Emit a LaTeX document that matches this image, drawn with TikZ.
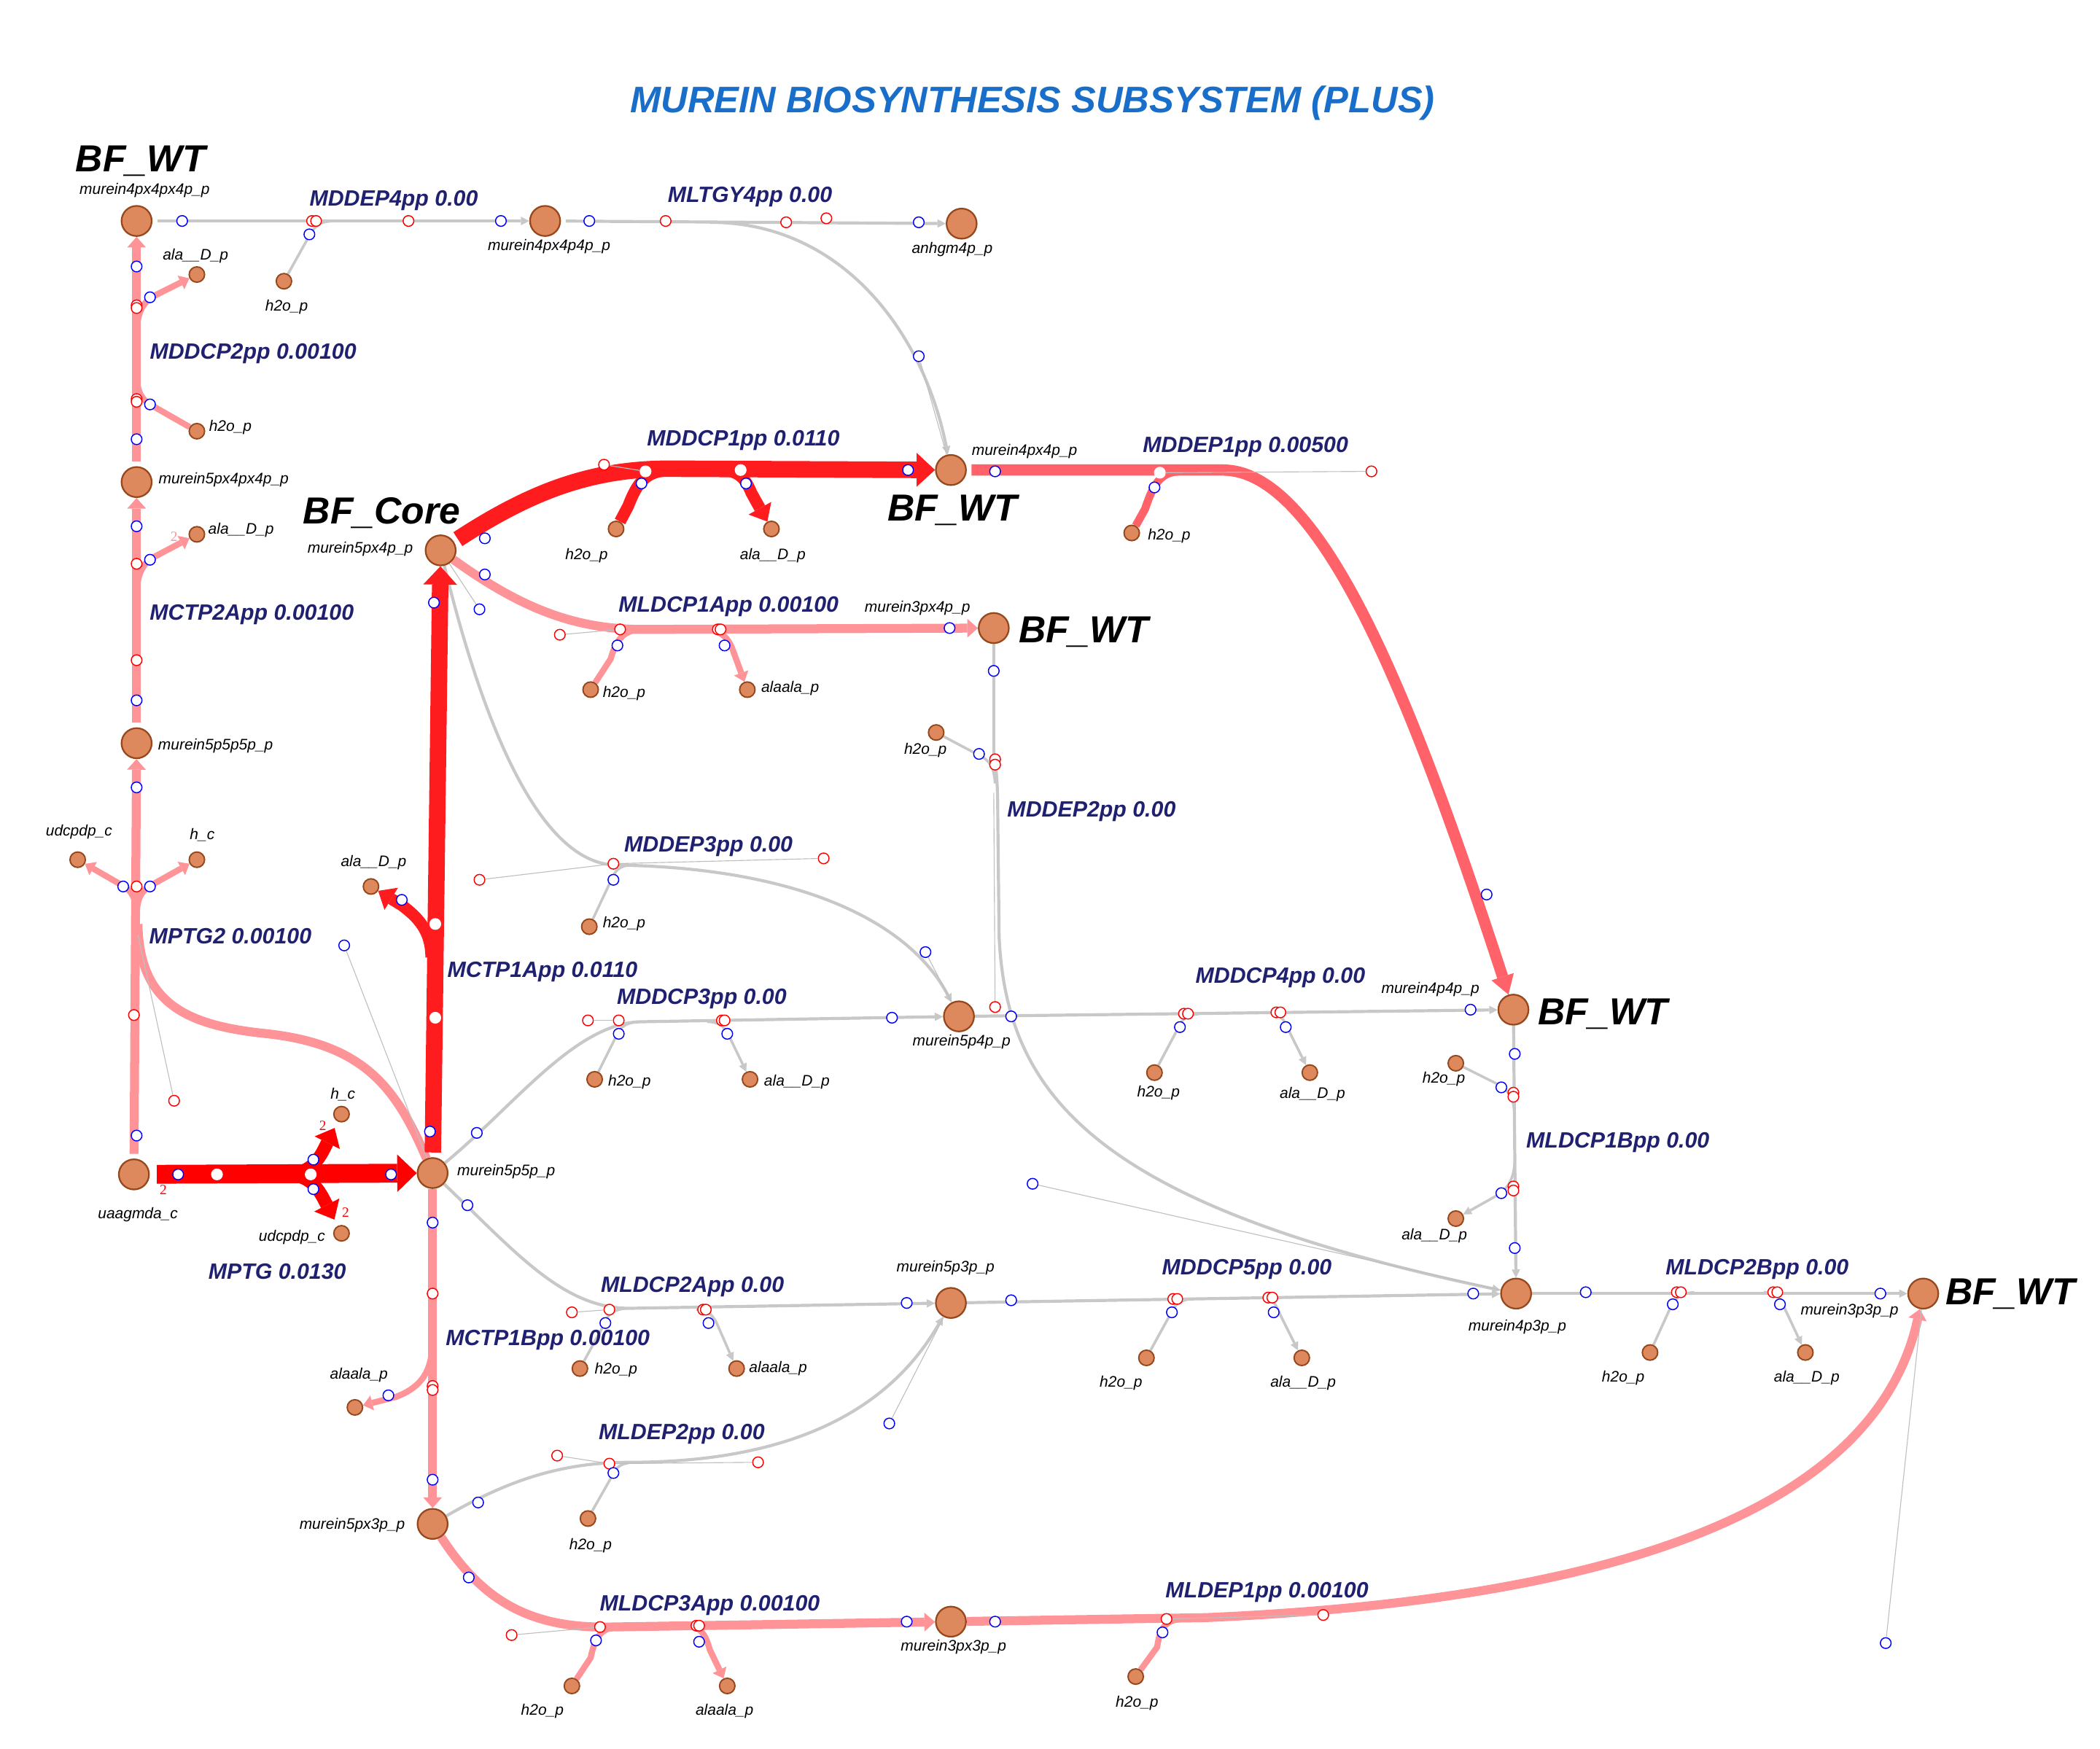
\documentclass[tikz,border=0pt]{standalone}
\usepackage{fontspec}
\setmainfont{Liberation Sans}
\newfontfamily\stoichfont{Liberation Serif}
\usetikzlibrary{arrows.meta}
\usetikzlibrary{backgrounds}

\definecolor{metfill}{RGB}{222,137,93}
\definecolor{metdraw}{RGB}{150,72,28}
\definecolor{fluxtop}{RGB}{255,0,0}
\definecolor{fluxhigh}{RGB}{255,28,30}
\definecolor{fluxmid}{RGB}{255,98,104}
\definecolor{fluxlow}{RGB}{255,148,152}
\definecolor{fluxnone}{RGB}{200,200,200}
\definecolor{rxnavy}{RGB}{32,32,112}
\definecolor{titleblue}{RGB}{24,110,200}

\tikzset{
  met/.style={circle, draw=metdraw, fill=metfill, line width=0.7pt, inner sep=0pt, minimum size=0.45cm},
  smet/.style={met, minimum size=0.23cm, line width=0.6pt},
  mlab/.style={anchor=base, inner sep=0pt, font=\fontsize{6.5}{7}\selectfont\itshape},
  rlab/.style={anchor=base, inner sep=0pt, text=rxnavy, font=\fontsize{9.4}{10}\selectfont\bfseries\itshape},
  bflab/.style={anchor=base, inner sep=0pt, font=\fontsize{16}{18}\selectfont\bfseries\itshape},
  titlelab/.style={anchor=base, inner sep=0pt, text=titleblue, font=\fontsize{15.7}{18}\selectfont\bfseries\itshape},
  stoich/.style={anchor=base, inner sep=0pt, text=red, font=\fontsize{6}{6}\selectfont\stoichfont},
  bmark/.style={circle, draw=blue, fill=white, line width=0.45pt, inner sep=0pt, minimum size=0.16cm},
  rmark/.style={bmark, draw=red},
  wmark/.style={bmark, draw=white},
  skel/.style={draw=black!25, line width=0.35pt},
  f0/.style={draw=fluxnone, line width=1.3pt},
  f0b/.style={draw=fluxnone, line width=1.1pt},
  f1/.style={draw=fluxlow, line width=3.8pt},
  f1b/.style={draw=fluxlow, line width=2.6pt},
  f2/.style={draw=fluxmid, line width=4.8pt},
  f2b/.style={draw=fluxmid, line width=3.4pt},
  f3/.style={draw=fluxhigh, line width=7pt},
  f3b/.style={draw=fluxhigh, line width=5pt},
  f4/.style={draw=fluxtop, line width=8pt},
  f4b/.style={draw=fluxtop, line width=5.5pt},
  tip0/.style={-{Triangle[length=3.5pt,width=3.6pt,line width=0pt]}},
  tip1/.style={-{Triangle[length=4.5pt,width=8pt,line width=0pt]}},
  tip1b/.style={-{Triangle[length=4pt,width=6.5pt,line width=0pt]}},
  tip2/.style={-{Triangle[length=8pt,width=10pt,line width=0pt]}},
  tip3/.style={-{Triangle[length=7.8pt,width=14.4pt,line width=0pt]}},
  tip3b/.style={-{Triangle[length=6.5pt,width=11pt,line width=0pt]}},
  tip4/.style={-{Triangle[length=8.3pt,width=16pt,line width=0pt]}},
  tip4b/.style={-{Triangle[length=7pt,width=12pt,line width=0pt]}},
}

\begin{document}
\begin{tikzpicture}[x={(0.02cm,0)},y={(0,-0.02cm)}]
        \useasboundingbox (0,0) rectangle (1568,1306);

        % metabolites (main)
        \node[met](m4x4x4) at (102,165){};
        \node[met](m4x44) at (407,165){};
        \node[met](anh) at (718,167){};
        \node[met](m5x4x4) at (102,360){};
        \node[met](m555) at (102,555){};
        \node[met](m5x4) at (329,411){};
        \node[met](m4x4) at (710,351){};
        \node[met](m3x4) at (742,469){};
        \node[met](uaag) at (100,877){};
        \node[met](m55) at (323,876){};
        \node[met](m54) at (716,759){};
        \node[met](m44) at (1130,754){};
        \node[met](m53) at (710,973){};
        \node[met](m43) at (1132,966){};
        \node[met](m33) at (1436,966){};
        \node[met](m5x3) at (323,1138){};
        \node[met](m3x3) at (710,1211){};

        % metabolites (side)
        \node[smet](ala1) at (147,205){};
        \node[smet](w1) at (212,210){};
        \node[smet](w2) at (147,322){};
        \node[smet](ala2) at (147,399){};
        \node[smet](udp1) at (58,642){};
        \node[smet](hc1) at (147,642){};
        \node[smet](ala3) at (277,662){};
        \node[smet](hc2) at (255,832){};
        \node[smet](udp2) at (255,921){};
        \node[smet](w3) at (460,395){};
        \node[smet](ala4) at (576,395){};
        \node[smet](w4) at (845,398){};
        \node[smet](w5) at (441,515){};
        \node[smet](aa1) at (558,515){};
        \node[smet](w6) at (699,547){};
        \node[smet](w7) at (440,692){};
        \node[smet](w8) at (444,806){};
        \node[smet](ala5) at (560,806){};
        \node[smet](w9) at (862,801){};
        \node[smet](ala6) at (978,801){};
        \node[smet](w10) at (1087,794){};
        \node[smet](ala7) at (1087,910){};
        \node[smet](aa2) at (265,1051){};
        \node[smet](w11) at (433,1022){};
        \node[smet](aa3) at (550,1022){};
        \node[smet](w12) at (856,1014){};
        \node[smet](ala8) at (972,1014){};
        \node[smet](w13) at (1232,1010){};
        \node[smet](ala9) at (1348,1010){};
        \node[smet](w14) at (439,1134){};
        \node[smet](w15) at (427,1259){};
        \node[smet](aa4) at (543,1259){};
        \node[smet](w16) at (848,1252){};

        \coordinate (jmptg) at (103,698);
        \coordinate (jdep) at (742,592);

        \begin{scope}[on background layer]
        % zero flux
        \draw[f0, tip0, shorten <=2pt] (m4x4x4) -- (m4x44);
        \draw[f0b] (w1) -- (231,176) .. controls (236,167) and (240,165) .. (252,165);
        \draw[f0, tip0, shorten <=2pt] (m4x44) -- (anh);
        \draw[f0, tip0] (530,166) .. controls (630,166) and (690,250) .. (m4x4);
        \draw[f0, tip0] (m3x4) -- (742,562) .. controls (744,575) and (745,585) .. (745,610) -- (746,700) .. controls (752,820) and (820,900) .. (m43);
        \draw[f0b] (w6) -- (731,564) .. controls (739,568) and (742,572) .. (743,585);
        \draw[f0, tip0] (m5x4) .. controls (358,530) and (400,645) .. (460,646) .. controls (600,648) and (680,690) .. (m54);
        \draw[f0b] (w7) -- (456,658) .. controls (459,650) and (463,646) .. (472,646);
        \draw[f0, tip0] (m55) .. controls (385,825) and (430,763) .. (480,763) -- (m54);
        \draw[f0b] (w8) -- (459,776) .. controls (462,768) and (466,764) .. (476,763);
        \draw[f0b, tip0] (528,763) .. controls (538,763) and (542,768) .. (545,775) -- (ala5);
        \draw[f0, tip0] (m54) -- (m44);
        \draw[f0b] (w9) -- (879,769) .. controls (882,761) and (886,758) .. (896,757);
        \draw[f0b, tip0] (945,756) .. controls (955,756) and (959,761) .. (962,769) -- (ala6);
        \draw[f0, tip0] (m44) -- (m43);
        \draw[f0b] (w10) -- (1119,810) .. controls (1127,815) and (1130,820) .. (1131,832);
        \draw[f0b, tip0] (1131,868) .. controls (1130,880) and (1127,886) .. (1119,892) -- (ala7);
        \draw[f0, tip0] (m53) -- (m43);
        \draw[f0b] (w12) -- (873,983) .. controls (877,974) and (881,970) .. (892,970);
        \draw[f0b, tip0] (940,969) .. controls (950,969) and (953,974) .. (956,982) -- (ala8);
        \draw[f0, tip0] (m43) -- (m33);
        \draw[f0b] (w13) -- (1247,977) .. controls (1251,969) and (1255,966) .. (1265,965);
        \draw[f0b, tip0] (1317,965) .. controls (1327,965) and (1330,970) .. (1333,978) -- (ala9);
        \draw[f0, tip0] (m55) .. controls (385,935) and (420,977) .. (470,977) -- (m53);
        \draw[f0b] (w11) -- (450,991) .. controls (453,982) and (457,978) .. (468,977);
        \draw[f0b, tip0] (520,978) .. controls (529,978) and (533,983) .. (536,990) -- (aa3);
        \draw[f0, tip0] (m5x3) .. controls (380,1105) and (420,1092) .. (470,1092) .. controls (580,1092) and (660,1060) .. (m53);
        \draw[f0b] (w14) -- (456,1104) .. controls (459,1096) and (463,1093) .. (472,1092);

        % low flux
        \draw[f1, tip1, shorten <=2pt] (m5x4x4) -- (m4x4x4);
        \draw[f1b] (w2) -- (112,302) .. controls (104,297) and (102,290) .. (102,276);
        \draw[f1b, tip1b] (102,252) .. controls (102,236) and (105,228) .. (113,222) -- (ala1);
        \draw[f1, tip1, shorten <=2pt] (m555) -- (m5x4x4);
        \draw[f1b, tip1b] (102,447) .. controls (102,431) and (105,423) .. (113,417) -- (ala2);
        \draw[f1, tip1, shorten <=2pt] (uaag) -- (m555);
        \draw[f1] (m55) .. controls (295,810) and (270,780) .. (200,772) .. controls (140,766) and (104,750) .. (103,690);
        \draw[f1b, tip1b] (102,685) .. controls (102,670) and (98,665) .. (91,661) -- (udp1);
        \draw[f1b, tip1b] (102,685) .. controls (102,670) and (106,665) .. (113,661) -- (hc1);
        \draw[f1, tip1] (m5x4) .. controls (390,455) and (430,470) .. (480,470) -- (m3x4);
        \draw[f1b] (w5) -- (456,492) .. controls (460,478) and (465,471) .. (478,470);
        \draw[f1b, tip1b] (528,470) .. controls (539,471) and (544,477) .. (547,485) -- (aa1);
        \draw[f1, tip1] (m55) -- (m5x3);
        \draw[f1b, tip1b] (323,1000) .. controls (323,1025) and (314,1036) .. (296,1043) -- (aa2);
        \draw[f1, tip1] (m5x3) .. controls (360,1195) and (395,1216) .. (455,1215) -- (m3x3);
        \draw[f1b] (w15) -- (441,1238) .. controls (444,1224) and (448,1216) .. (460,1215);
        \draw[f1b, tip1b] (515,1214) .. controls (523,1215) and (527,1221) .. (530,1232) -- (aa4);
        \draw[f1, tip1] (m3x3) -- (900,1208) .. controls (1200,1195) and (1400,1130) .. (m33);
        \draw[f1b] (w16) -- (864,1230) .. controls (866,1216) and (870,1210) .. (882,1209);

        % mid and high flux
        \draw[f2, tip2, shorten <=2pt] (m4x4) -- (913,351) .. controls (990,351) and (1060,540) .. (m44);
        \draw[f2b] (w4) -- (855,380) .. controls (861,362) and (866,353) .. (880,352);
        \draw[f3, tip3, shorten <=2pt] (m55) -- (m5x4);
        \draw[f3b, tip3b] (322,715) .. controls (322,695) and (312,685) .. (300,676) -- (ala3);
        \draw[f3, tip3, shorten <=2pt] (m5x4) .. controls (395,368) and (440,350) .. (500,350) -- (m4x4);
        \draw[f3b] (w3) -- (469,378) .. controls (476,360) and (482,352) .. (500,351);
        \draw[f3b, tip3b] (540,351) .. controls (552,352) and (557,358) .. (561,368) -- (ala4);
        \draw[f4, tip4, shorten <=3pt] (uaag) -- (m55);
        \draw[f4b, tip4b, shorten >=3pt] (212,877) .. controls (228,877) and (236,870) .. (242,858) -- (hc2);
        \draw[f4b, tip4b, shorten >=3pt] (212,877) .. controls (228,877) and (236,884) .. (242,896) -- (udp2);
        \end{scope}

        % markers with thin links
        \node[bmark](bA) at (257,706){};
        \node[bmark](bB) at (358,455){};
        \node[bmark](bC) at (686,266){};
        \node[bmark](bD) at (691,711){};
        \node[bmark](bE) at (771,884){};
        \node[bmark](bF) at (664,1063){};
        \node[bmark](bG) at (1408,1227){};
        \node[rmark](rA) at (130,822){};
        \node[rmark](rB) at (1024,352){};
        \node[rmark](rC) at (358,657){};
        \node[rmark](rD) at (458,645){};
        \node[rmark](rE) at (615,641){};
        \node[rmark](rF) at (743,752){};
        \node[rmark](rG) at (416,1087){};
        \node[rmark](rH) at (455,1093){};
        \node[rmark](rI) at (566,1092){};
        \node[rmark](rJ) at (988,1206){};
        \node[rmark](rK) at (871,1209){};
        \node[rmark](rL) at (382,1221){};
        \node[rmark](rM) at (448,1215){};
        \node[rmark](rN) at (418,474){};
        \node[rmark](rO) at (463,470){};
        \node[rmark](rP) at (439,762){};
        \node[rmark](rQ) at (462,762){};
        \node[rmark](rR) at (427,980){};
        \node[rmark](rS) at (455,978){};
        \node[rmark](rT) at (451,347){};
        \node[wmark](wA) at (866,353){};
        \node[wmark](wB) at (482,352){};

        \draw[skel] (rA) -- (jmptg);
        \draw[skel] (bA) -- (m55);
        \draw[skel] (bB) -- (m5x4);
        \draw[skel] (bC) -- (m4x4);
        \draw[skel] (rB) -- (wA);
        \draw[skel] (rC) -- (rD) -- (rE);
        \draw[skel] (jdep) -- (rF);
        \draw[skel] (bD) -- (m54);
        \draw[skel] (bE) -- (m43);
        \draw[skel] (rG) -- (rH) -- (rI);
        \draw[skel] (bF) -- (m53);
        \draw[skel] (rK) -- (rJ);
        \draw[skel] (bG) -- (m33);
        \draw[skel] (rL) -- (rM);
        \draw[skel] (rN) -- (rO);
        \draw[skel] (rP) -- (rQ);
        \draw[skel] (rR) -- (rS);
        \draw[skel] (rT) -- (wB);

        % plain markers
        \foreach \p [count=\i] in {(136,165),(231,175),(374,165),(440,165),(686,166),
            (102,328),(112,302),(112,222),(102,199),(102,523),(112,418),(102,393),
            (102,848),(102,588),(92,662),(112,662),(133,877),(234,866),(234,888),(292,877),
            (321,845),(300,672),(324,450),(362,402),(479,361),(557,361),(678,351),
            (743,352),(862,364),(1110,668),(362,429),(461,482),(541,482),(709,469),
            (742,501),(731,563),(458,657),(356,846),(462,772),(543,772),(666,760),
            (755,759),(881,767),(960,767),(1098,754),(1131,787),(1121,812),(1121,891),(1131,932),
            (755,971),(875,980),(951,980),(1100,966),(1184,965),(1249,974),(1329,974),(1404,966),
            (349,900),(452,988),(529,988),(677,973),(323,913),(290,1042),(323,1105),
            (357,1122),(458,1100),(350,1178),(445,1225),(522,1226),(677,1211),(743,1211),(868,1219)}
          \node[bmark](b\i) at \p {};
        \foreach \p [count=\i] in {(233,165),(236,165),(305,165),(497,165),(587,166),(617,163),
            (102,298),(102,300),(102,228),(102,230),(102,493),(102,421),(100,758),(102,662),
            (743,567),(743,571),(884,757),(887,757),(953,756),(956,756),
            (1130,816),(1130,819),(1130,886),(1130,889),(876,970),(879,970),(947,969),(950,969),
            (1252,965),(1255,965),(1324,965),(1327,965),(525,978),(527,978),(323,966),
            (323,1035),(323,1038),(520,1214),(522,1214),(536,470),(538,470),(539,762),(541,762)}
          \node[rmark](r\i) at \p {};
        \foreach \p [count=\i] in {(162,877),(232,877),(325,760),(325,690),(553,351)}
          \node[wmark](wm\i) at \p {};

        % stoichiometry
        \node[stoich](s1) at (122,892){2};
        \node[stoich](s2) at (241,844){2};
        \node[stoich](s3) at (258,909){2};
        \node[stoich, text=fluxlow](s4) at (130,404){2};

        % metabolite labels
        \node[mlab](t1) at (108,145){murein4px4px4p\_p};
        \node[mlab](t2) at (146,194){ala\_\_D\_p};
        \node[mlab](t3) at (214,232){h2o\_p};
        \node[mlab](t4) at (410,187){murein4px4p4p\_p};
        \node[mlab](t5) at (711,189){anhgm4p\_p};
        \node[mlab](t6) at (172,322){h2o\_p};
        \node[mlab](t7) at (167,361){murein5px4px4p\_p};
        \node[mlab](t8) at (180,399){ala\_\_D\_p};
        \node[mlab](t9) at (269,413){murein5px4p\_p};
        \node[mlab](t10) at (161,560){murein5p5p5p\_p};
        \node[mlab](t11) at (59,624){udcpdp\_c};
        \node[mlab](t12) at (151,627){h\_c};
        \node[mlab](t13) at (279,647){ala\_\_D\_p};
        \node[mlab](t14) at (256,821){h\_c};
        \node[mlab](t15) at (103,910){uaagmda\_c};
        \node[mlab](t16) at (218,927){udcpdp\_c};
        \node[mlab](t17) at (378,878){murein5p5p\_p};
        \node[mlab](t18) at (438,418){h2o\_p};
        \node[mlab](t19) at (577,418){ala\_\_D\_p};
        \node[mlab](t20) at (765,340){murein4px4p\_p};
        \node[mlab](t21) at (873,403){h2o\_p};
        \node[mlab](t22) at (466,521){h2o\_p};
        \node[mlab](t23) at (590,517){alaala\_p};
        \node[mlab](t24) at (685,457){murein3px4p\_p};
        \node[mlab](t25) at (691,563){h2o\_p};
        \node[mlab](t26) at (466,693){h2o\_p};
        \node[mlab](t27) at (718,781){murein5p4p\_p};
        \node[mlab](t28) at (470,811){h2o\_p};
        \node[mlab](t29) at (595,811){ala\_\_D\_p};
        \node[mlab](t30) at (1068,742){murein4p4p\_p};
        \node[mlab](t31) at (865,819){h2o\_p};
        \node[mlab](t32) at (980,820){ala\_\_D\_p};
        \node[mlab](t33) at (1078,809){h2o\_p};
        \node[mlab](t34) at (1071,926){ala\_\_D\_p};
        \node[mlab](t35) at (706,950){murein5p3p\_p};
        \node[mlab](t36) at (1133,994){murein4p3p\_p};
        \node[mlab](t37) at (837,1036){h2o\_p};
        \node[mlab](t38) at (973,1036){ala\_\_D\_p};
        \node[mlab](t39) at (1381,982){murein3p3p\_p};
        \node[mlab](t40) at (1212,1032){h2o\_p};
        \node[mlab](t41) at (1349,1032){ala\_\_D\_p};
        \node[mlab](t42) at (268,1030){alaala\_p};
        \node[mlab](t43) at (460,1026){h2o\_p};
        \node[mlab](t44) at (581,1025){alaala\_p};
        \node[mlab](t45) at (263,1142){murein5px3p\_p};
        \node[mlab](t46) at (441,1157){h2o\_p};
        \node[mlab](t47) at (712,1233){murein3px3p\_p};
        \node[mlab](t48) at (405,1281){h2o\_p};
        \node[mlab](t49) at (541,1281){alaala\_p};
        \node[mlab](t50) at (849,1275){h2o\_p};

        % reaction labels
        \node[rlab](MDDEP4pp) at (294,154){MDDEP4pp 0.00};
        \node[rlab](MLTGY4pp) at (560,151){MLTGY4pp 0.00};
        \node[rlab](MDDCP2pp) at (189,268){MDDCP2pp 0.00100};
        \node[rlab](MCTP2App) at (188,463){MCTP2App 0.00100};
        \node[rlab](MPTG2) at (172,705){MPTG2 0.00100};
        \node[rlab](MCTP1App) at (405,730){MCTP1App 0.0110};
        \node[rlab](MDDCP1pp) at (555,333){MDDCP1pp 0.0110};
        \node[rlab](MDDEP1pp) at (930,338){MDDEP1pp 0.00500};
        \node[rlab](MLDCP1App) at (544,457){MLDCP1App 0.00100};
        \node[rlab](MDDEP2pp) at (815,610){MDDEP2pp 0.00};
        \node[rlab](MDDEP3pp) at (529,636){MDDEP3pp 0.00};
        \node[rlab](MDDCP3pp) at (524,750){MDDCP3pp 0.00};
        \node[rlab](MDDCP4pp) at (956,734){MDDCP4pp 0.00};
        \node[rlab](MLDCP1Bpp) at (1208,857){MLDCP1Bpp 0.00};
        \node[rlab](MPTG) at (207,955){MPTG 0.0130};
        \node[rlab](MLDCP2App) at (517,965){MLDCP2App 0.00};
        \node[rlab](MDDCP5pp) at (931,952){MDDCP5pp 0.00};
        \node[rlab](MLDCP2Bpp) at (1312,952){MLDCP2Bpp 0.00};
        \node[rlab](MCTP1Bpp) at (409,1005){MCTP1Bpp 0.00100};
        \node[rlab](MLDEP2pp) at (509,1075){MLDEP2pp 0.00};
        \node[rlab](MLDCP3App) at (530,1203){MLDCP3App 0.00100};
        \node[rlab](MLDEP1pp) at (946,1193){MLDEP1pp 0.00100};

        % model tags and title
        \node[bflab](bf1) at (105,128){BF\_WT};
        \node[bflab](bf2) at (285,391){BF\_Core};
        \node[bflab](bf3) at (711,389){BF\_WT};
        \node[bflab](bf4) at (809,480){BF\_WT};
        \node[bflab](bf5) at (1197,765){BF\_WT};
        \node[bflab](bf6) at (1501,974){BF\_WT};
        \node[titlelab](title) at (771,84){MUREIN BIOSYNTHESIS SUBSYSTEM (PLUS)};

      \end{tikzpicture}
\end{document}
